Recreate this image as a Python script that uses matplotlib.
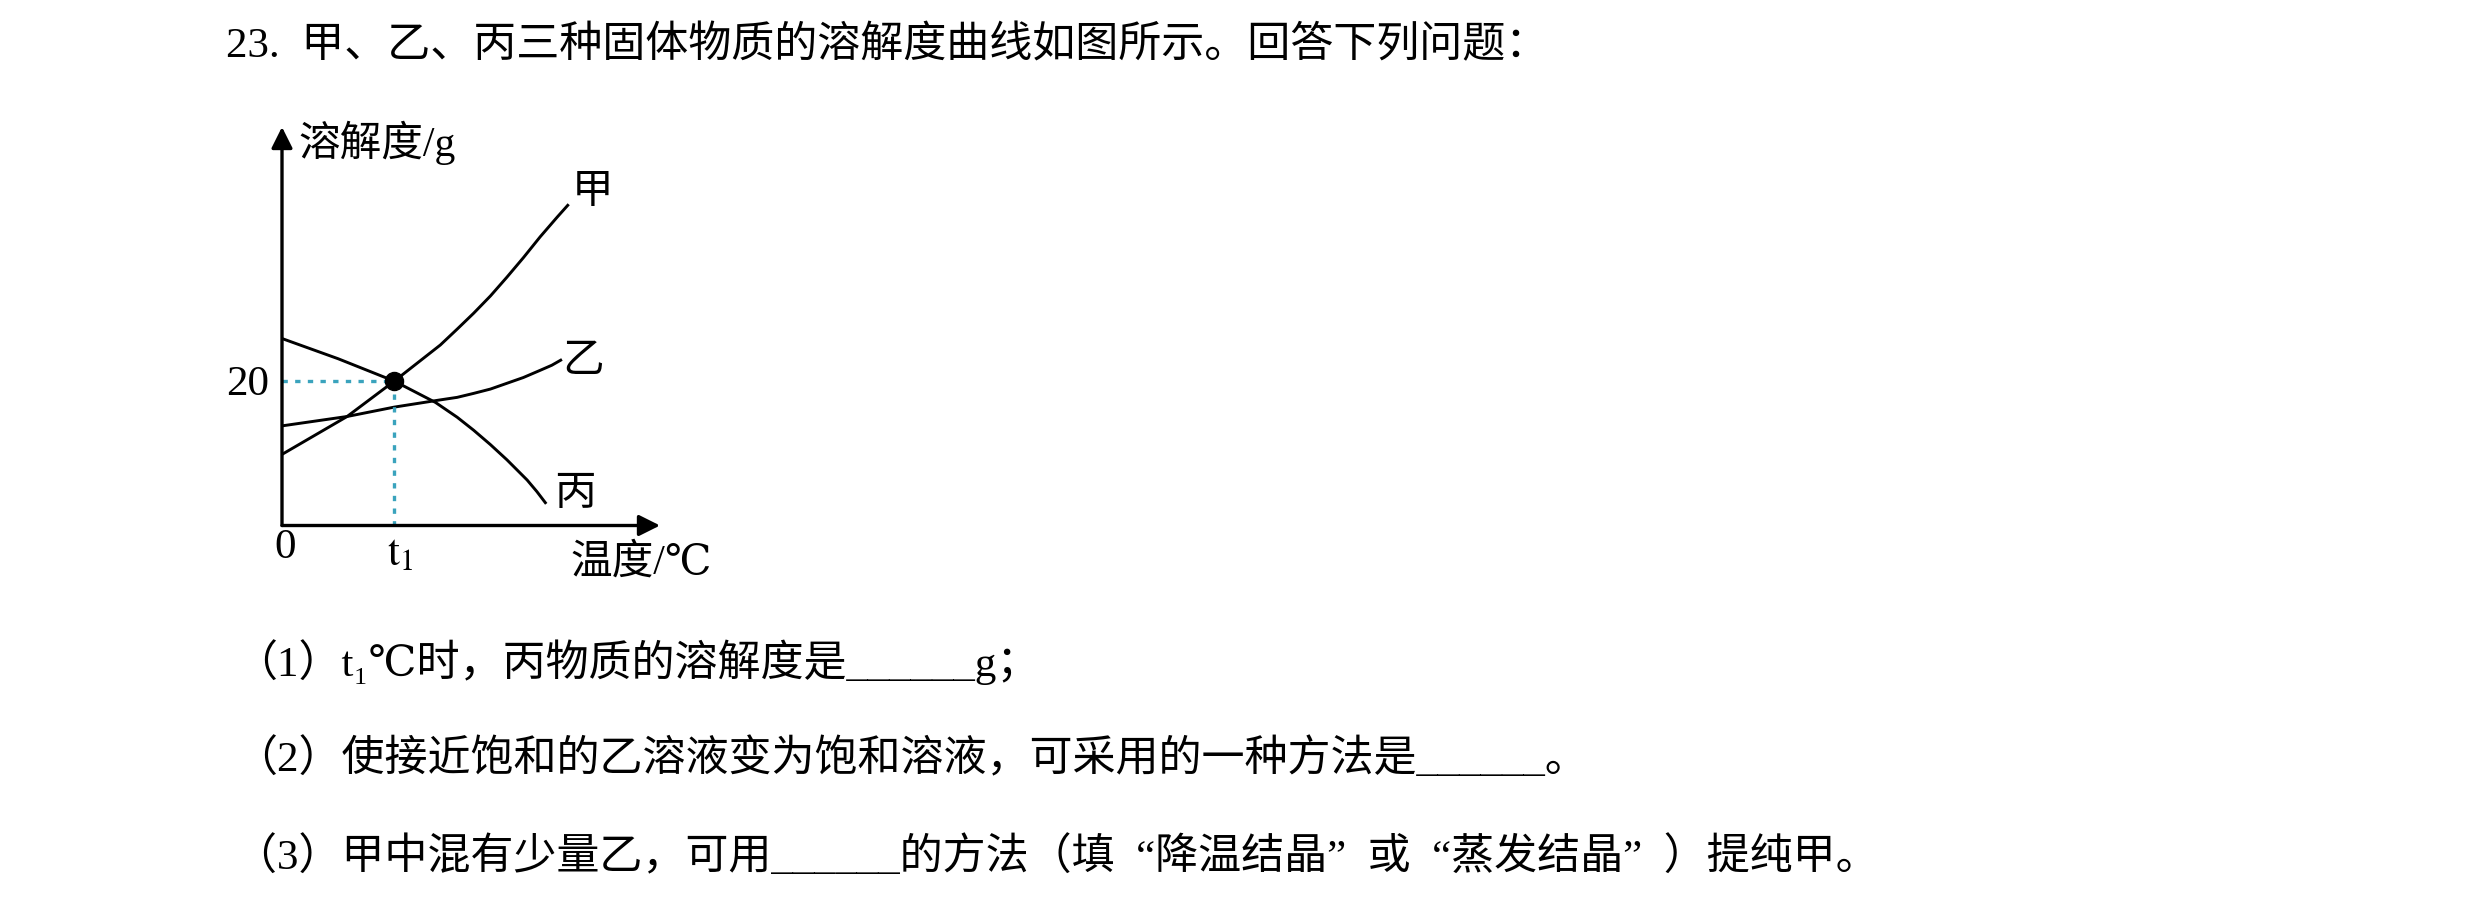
# -*- coding: UTF-8 -*-
'''
溶解度曲线题 重画
'''
import matplotlib
matplotlib.use('Agg')
import matplotlib.pyplot as plt

# 数据：三条溶解度曲线（温度取任意单位，t1 记为 30）
t1 = 30
s_t1 = 20
jia_x = [0, 17.4, 30, 42.3, 46.8, 51.2, 55.7, 60.1, 64.5, 69.0, 73.5, 76.6]
jia_y = [9.85, 15.1, 20, 25.0, 27.2, 29.4, 31.8, 34.4, 37.1, 40.0, 42.7, 44.5]
yi_x = [0, 17.4, 30, 42.3, 46.8, 51.2, 55.7, 60.1, 64.5, 69.0, 72.1, 74.8]
yi_y = [13.8, 15.1, 16.4, 17.4, 17.75, 18.3, 18.9, 19.7, 20.5, 21.5, 22.2, 23.0]
bing_x = [0, 15, 30, 41.0, 46.8, 51.2, 55.7, 60.1, 65.5, 68.1, 70.6]
bing_y = [25.9, 23.1, 20, 17.05, 15.0, 13.2, 11.2, 9.1, 6.3, 4.7, 3.0]
names = ['甲', '乙', '丙']

# 文字
title = '23.  甲、乙、丙三种固体物质的溶解度曲线如图所示。回答下列问题：'
questions = ['（1）t₁℃时，丙物质的溶解度是______g；',
             '（2）使接近饱和的乙溶液变为饱和溶液，可采用的一种方法是______。',
             '（3）甲中混有少量乙，可用______的方法（填  “降温结晶”  或  “蒸发结晶”  ）提纯甲。']

plt.rcParams['font.family'] = ['Liberation Serif', 'DejaVu Serif', 'Noto Sans CJK SC']
plt.rcParams['mathtext.fontset'] = 'stix'

W, H = 2480, 899
fig = plt.figure(figsize=(W / 100, H / 100), dpi=100)


def px(x, y):  # 像素坐标（左上为原点）转为 figure 比例
    return x / W, 1 - y / H


# 坐标轴区域：原点在 (282, 525)，箭头到 (660, 525) 和 (282, 127)
x0, y0, x1, y1 = 282, 525.5, 660, 127
xmax, ymax = 101, 55.2
ax = fig.add_axes([x0 / W, 1 - y0 / H, (x1 - x0) / W, (y0 - y1) / H])
ax.set_xlim(0, xmax)
ax.set_ylim(0, ymax)
ax.axis('off')

# 坐标轴箭头
arrow = dict(arrowstyle='-|>', lw=2.4, color='k', mutation_scale=32, shrinkA=0, shrinkB=0)
ax.annotate('', xy=(xmax, 0), xytext=(0, 0), arrowprops=arrow, annotation_clip=False)
ax.annotate('', xy=(0, ymax), xytext=(0, 0), arrowprops=arrow, annotation_clip=False)

# 曲线
for xs, ys in [(jia_x, jia_y), (yi_x, yi_y), (bing_x, bing_y)]:
    ax.plot(xs, ys, color='k', lw=2.1, solid_capstyle='butt', solid_joinstyle='round', clip_on=False)

# 虚线和交点
cyan = '#3aa3bd'
ax.plot([0, t1], [s_t1, s_t1], color=cyan, lw=2.4, ls=(0, (1.6, 2.2)), clip_on=False)
ax.plot([t1, t1], [0, s_t1], color=cyan, lw=2.4, ls=(0, (1.6, 2.2)), clip_on=False)
ax.plot(t1, s_t1, 'o', ms=13, color='k', clip_on=False)

# 图中文字
fs = 30
fig.text(*px(298, 143), '溶解度/g', fontsize=fs, va='center', ha='left')
fig.text(*px(572, 193), names[0], fontsize=fs, va='center', ha='left')
fig.text(*px(562, 362), names[1], fontsize=fs, va='center', ha='left')
fig.text(*px(554, 495), names[2], fontsize=fs, va='center', ha='left')
fig.text(*px(269, 385), '20', fontsize=31, va='center', ha='right')
fig.text(*px(285, 548), '0', fontsize=31, va='center', ha='center')
fig.text(*px(400, 555), r'$\mathrm{t}_{1}$', fontsize=31, va='center', ha='center')
fig.text(*px(570, 563), '温度/℃', fontsize=fs, va='center', ha='left')

# 题干和小题
fig.text(*px(226, 46), title, fontsize=31, va='center', ha='left')
for i, q in enumerate(questions):
    fig.text(*px(234, 662 + i * 97.5), q, fontsize=31, va='center', ha='left')

fig.savefig('out.png', dpi=100, facecolor='white')
